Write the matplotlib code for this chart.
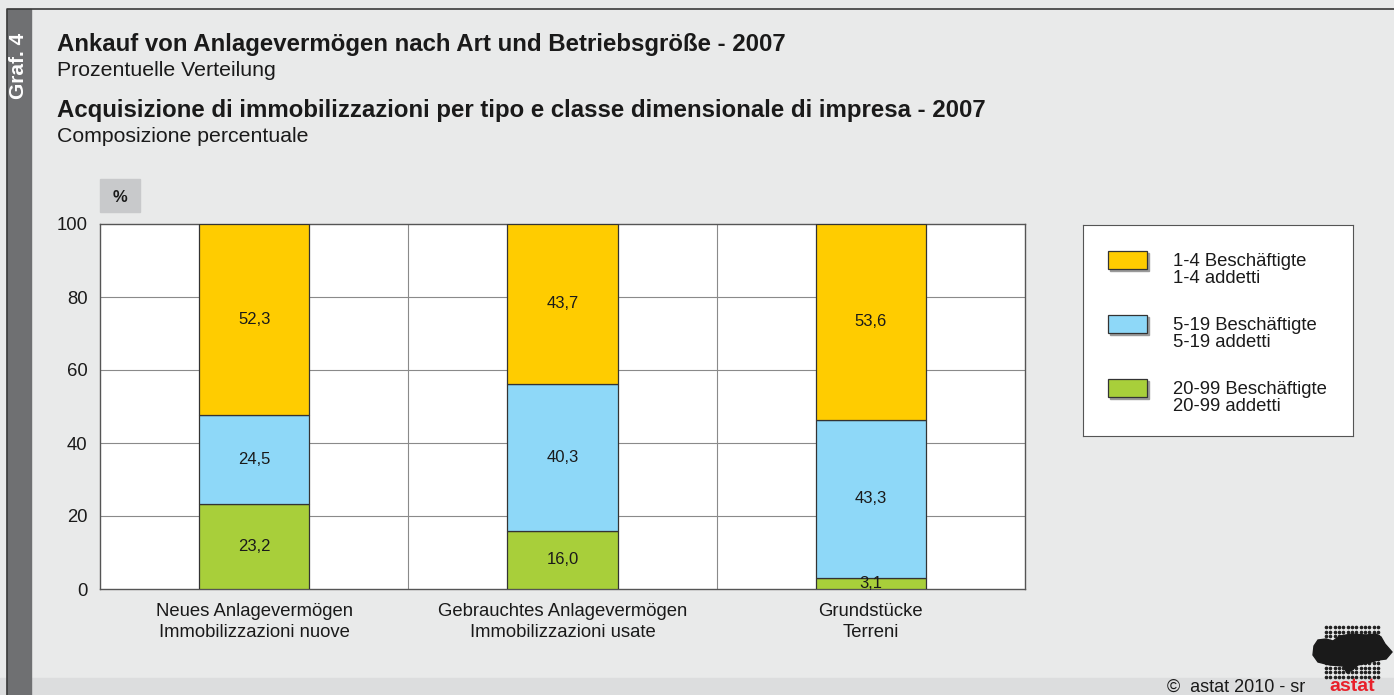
import numpy as np
import matplotlib
matplotlib.use("Agg")
import matplotlib.pyplot as plt
from matplotlib.patches import Rectangle, Polygon

plt.rcParams["font.family"] = ["Liberation Sans", "DejaVu Sans"]

categories = ["Neues Anlagevermögen\nImmobilizzazioni nuove",
              "Gebrauchtes Anlagevermögen\nImmobilizzazioni usate",
              "Grundstücke\nTerreni"]
series_names = ["1-4 Beschäftigte\n1-4 addetti",
                "5-19 Beschäftigte\n5-19 addetti",
                "20-99 Beschäftigte\n20-99 addetti"]
small = [52.3, 43.7, 53.6]
medium = [24.5, 40.3, 43.3]
large = [23.2, 16.0, 3.1]
colors = ["#FFCC00", "#8ED8F8", "#A8CF3A"]

W, H = 1394, 695
BG = "#E9EAEA"
TXT = "#1A1A1A"
fig = plt.figure(figsize=(W / 100, H / 100), dpi=100, facecolor=BG)


def fx(px):
    return px / W


def fy(py):
    return 1 - py / H


# frame, sidebar, bottom strip
fig.patches.append(Rectangle((0, 0), 1, fy(678), transform=fig.transFigure,
                             color="#DCDDDE", zorder=0))
fig.patches.append(Rectangle((fx(7), 0), 24 / W, fy(9),
                             transform=fig.transFigure, color="#6F7072", zorder=1))
fig.add_artist(plt.Line2D([fx(7), fx(7), 1], [0, fy(9), fy(9)],
                          transform=fig.transFigure, color="#3A3A3A", lw=1.2))
fig.text(fx(19), fy(66), "Graf. 4", rotation=90, color="white", fontsize=15,
         fontweight="bold", ha="center", va="center")

# titles
fig.text(fx(57), fy(44), "Ankauf von Anlagevermögen nach Art und Betriebsgröße - 2007",
         fontsize=17.3, fontweight="bold", color=TXT, va="center")
fig.text(fx(57), fy(70), "Prozentuelle Verteilung", fontsize=15.3, color=TXT, va="center")
fig.text(fx(57), fy(110), "Acquisizione di immobilizzazioni per tipo e classe dimensionale di impresa - 2007",
         fontsize=17.3, fontweight="bold", color=TXT, va="center")
fig.text(fx(57), fy(136), "Composizione percentuale", fontsize=15.3, color=TXT, va="center")

# "%" box
fig.patches.append(Rectangle((fx(100), fy(212)), 40 / W, 33 / H,
                             transform=fig.transFigure, color="#C8C9CB", zorder=1))
fig.text(fx(120), fy(197), "%", fontsize=12, fontweight="bold", ha="center", va="center",
         color=TXT)

# main axes
ax = fig.add_axes([fx(100), fy(589), 925 / W, (589 - 224) / H])
ax.set_facecolor("white")
x = np.arange(len(categories))
bw = 0.357
bottoms = np.zeros(len(categories))
stack = [large, medium, small]
stack_colors = [colors[2], colors[1], colors[0]]
for vals, c in zip(stack, stack_colors):
    ax.bar(x, vals, bw, bottom=bottoms, color=c, edgecolor="#333333", linewidth=0.9, zorder=3)
    for xi, b, v in zip(x, bottoms, vals):
        ax.text(xi, b + v / 2, f"{v:.1f}".replace(".", ","), ha="center", va="center",
                fontsize=12, color=TXT, zorder=4)
    bottoms = bottoms + np.array(vals)

ax.set_xlim(-0.5, 2.5)
ax.set_ylim(0, 100)
ax.set_yticks(range(0, 101, 20))
ax.set_xticks(x)
ax.set_xticklabels(categories, fontsize=13.3, color=TXT, linespacing=1.35)
ax.tick_params(axis="y", length=0, pad=9, labelsize=13.3, labelcolor=TXT)
ax.tick_params(axis="x", length=0, pad=10)
for yv in range(20, 100, 20):
    ax.axhline(yv, color="#8A8A8A", lw=0.8, zorder=1)
for xv in [0.5, 1.5]:
    ax.axvline(xv, color="#8A8A8A", lw=0.8, zorder=1)
for s in ax.spines.values():
    s.set_color("#555555")
    s.set_linewidth(1)

# legend box
lax = fig.add_axes([fx(1083), fy(436), 270 / W, (436 - 225) / H])
lax.set_xlim(0, 270)
lax.set_ylim(211, 0)
lax.set_xticks([])
lax.set_yticks([])
lax.set_facecolor("white")
for s in lax.spines.values():
    s.set_color("#555555")
for i, (name, c) in enumerate(zip(series_names, colors)):
    y0 = 26 + i * 64
    lax.add_patch(Rectangle((27, y0 + 2), 39, 18, color="#9A9A9A", zorder=1))
    lax.add_patch(Rectangle((25, y0), 39, 18, facecolor=c, edgecolor="#333333", lw=0.9, zorder=2))
    lax.text(90, y0 + 19, name, fontsize=13.3, va="center", ha="left", color=TXT,
             linespacing=1.05)

# footer / logo
fig.text(fx(1305), fy(687), "©  astat 2010 - sr", fontsize=13, ha="right", va="center",
         color=TXT)
fig.text(fx(1352), fy(695), "astat", fontsize=14, fontweight="bold", ha="center", va="bottom",
         color="#E8202A")
gx, gy = np.meshgrid(np.linspace(1326, 1378, 13), np.linspace(627, 677, 12))
fig.add_artist(plt.Line2D(fx(gx.ravel()), fy(gy.ravel()), transform=fig.transFigure,
                          ls="none", marker="o", ms=1.6, color="#222222"))
blob = [(1314, 646), (1318, 640), (1326, 639), (1333, 641), (1340, 636), (1352, 634),
        (1366, 635), (1376, 634), (1381, 637), (1385, 644), (1392, 652), (1386, 659),
        (1378, 660), (1368, 663), (1358, 665), (1352, 670), (1347, 673), (1343, 666),
        (1330, 665), (1318, 662), (1313, 655)]
fig.patches.append(Polygon([(fx(a), fy(b)) for a, b in blob], closed=True,
                           transform=fig.transFigure, color="#1A1A1A", zorder=2))

fig.savefig("out.png", dpi=100, facecolor=BG)
